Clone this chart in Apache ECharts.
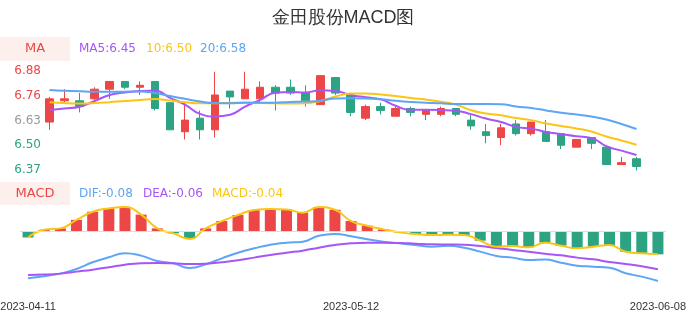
<!DOCTYPE html>
<html>
<head>
<meta charset="utf-8">
<title>金田股份MACD图</title>
<script src="https://cdn.jsdelivr.net/npm/echarts@6/dist/echarts.min.js"></script>
<style>
  html, body { margin: 0; padding: 0; background: #fff; }
  #main { width: 686px; height: 320px; }
</style>
</head>
<body>
<div id="main"></div>
<script>
// 交易日
var dates = ['2023-04-11','2023-04-12','2023-04-13','2023-04-14','2023-04-17','2023-04-18','2023-04-19','2023-04-20',
  '2023-04-21','2023-04-24','2023-04-25','2023-04-26','2023-04-27','2023-04-28','2023-05-04','2023-05-05',
  '2023-05-08','2023-05-09','2023-05-10','2023-05-11','2023-05-12','2023-05-15','2023-05-16','2023-05-17',
  '2023-05-18','2023-05-19','2023-05-22','2023-05-23','2023-05-24','2023-05-25','2023-05-26','2023-05-29',
  '2023-05-30','2023-05-31','2023-06-01','2023-06-02','2023-06-05','2023-06-06','2023-06-07','2023-06-08'];

// K线 开 收 低 高
var openPrice  = [6.62,6.73,6.73,6.74,6.79,6.83,6.80,6.83,6.72,6.57,6.64,6.58,6.78,6.74,6.74,6.80,6.80,6.77,6.71,6.85,
                  6.76,6.64,6.70,6.65,6.69,6.66,6.66,6.69,6.63,6.57,6.54,6.61,6.56,6.57,6.56,6.49,6.54,6.49,6.40,6.43];
var closePrice = [6.74,6.74,6.70,6.79,6.83,6.80,6.81,6.69,6.58,6.63,6.58,6.76,6.75,6.79,6.80,6.77,6.77,6.73,6.86,6.77,
                  6.67,6.70,6.68,6.69,6.67,6.68,6.69,6.66,6.60,6.55,6.59,6.56,6.62,6.52,6.50,6.53,6.51,6.40,6.41,6.39];
var lowPrice   = [6.58,6.72,6.67,6.72,6.74,6.79,6.76,6.68,6.58,6.53,6.53,6.54,6.69,6.74,6.72,6.68,6.76,6.70,6.71,6.76,
                  6.65,6.63,6.66,6.65,6.65,6.63,6.65,6.65,6.58,6.51,6.50,6.55,6.55,6.52,6.48,6.49,6.48,6.40,6.40,6.37];
var highPrice  = [6.75,6.79,6.77,6.80,6.83,6.83,6.83,6.83,6.72,6.72,6.68,6.88,6.78,6.88,6.83,6.81,6.84,6.81,6.86,6.85,
                  6.76,6.71,6.72,6.70,6.70,6.68,6.70,6.69,6.66,6.61,6.61,6.63,6.62,6.63,6.56,6.53,6.54,6.49,6.44,6.44];

// 均线
var ma5  = [6.682,6.690,6.699,6.729,6.760,6.773,6.780,6.783,6.745,6.710,6.662,6.649,6.658,6.700,6.735,6.772,6.776,6.773,6.784,6.781,
            6.760,6.748,6.738,6.704,6.683,6.683,6.682,6.679,6.661,6.638,6.620,6.595,6.586,6.569,6.558,6.547,6.538,6.495,6.472,6.450];
var ma10 = [6.723,6.718,6.716,6.718,6.723,6.729,6.734,6.739,6.731,6.723,6.717,6.717,6.720,6.721,6.718,6.717,6.716,6.717,6.729,6.752,
            6.767,6.768,6.763,6.755,6.744,6.736,6.725,6.710,6.681,6.664,6.655,6.641,6.630,6.612,6.600,6.587,6.571,6.545,6.525,6.503];
var ma20 = [6.786,6.782,6.779,6.777,6.777,6.777,6.778,6.770,6.755,6.740,6.726,6.718,6.717,6.720,6.720,6.720,6.724,6.726,6.730,6.742,
            6.743,6.742,6.738,6.730,6.724,6.720,6.717,6.713,6.713,6.713,6.712,6.700,6.693,6.680,6.668,6.659,6.649,6.633,6.610,6.584];

// MACD
var macdVal = [-0.011,0.002,0.0045,0.019,0.033,0.0386,0.041,0.028,0.0045,-0.004,-0.0136,0.0045,0.017,0.0273,0.0358,0.0375,0.0369,0.0312,0.0409,0.0363,
               0.017,0.0091,0.0028,-0.0023,-0.0051,-0.0068,-0.0065,-0.0068,-0.0165,-0.0267,-0.0256,-0.0278,-0.0199,-0.025,-0.0295,-0.0267,-0.0239,-0.0352,-0.038,-0.0398];
var dif = [-0.0806,-0.077,-0.0727,-0.0647,-0.0534,-0.0449,-0.038,-0.042,-0.0511,-0.055,-0.063,-0.0568,-0.0466,-0.037,-0.0295,-0.0233,-0.0199,-0.0182,-0.008,-0.0051,
           -0.009,-0.0142,-0.0182,-0.021,-0.0239,-0.0267,-0.0253,-0.0284,-0.0352,-0.0426,-0.0454,-0.0494,-0.0488,-0.054,-0.0591,-0.0608,-0.0625,-0.072,-0.0778,-0.0852];
var dea = [-0.075,-0.0744,-0.0727,-0.0693,-0.0659,-0.0619,-0.0574,-0.055,-0.0545,-0.055,-0.0562,-0.0557,-0.0534,-0.05,-0.0454,-0.0409,-0.037,-0.0335,-0.0284,-0.0239,
           -0.021,-0.0199,-0.0199,-0.0204,-0.0216,-0.0227,-0.023,-0.0233,-0.0256,-0.029,-0.0324,-0.0352,-0.0386,-0.0415,-0.0454,-0.0483,-0.0528,-0.0562,-0.0602,-0.0653];

// 刻度
var priceTicks = [6.372, 6.500, 6.628, 6.756, 6.884];
var macdRange = [-0.087, 0.041];
var dateLabelIdx = [0, 20, 39];

// 图例文字
var maLegend = ['MA5:6.45', '10:6.50', '20:6.58'];
var macdLegend = ['DIF:-0.08', 'DEA:-0.06', 'MACD:-0.04'];

var red = '#ec4646', green = '#2ca484';
var purple = '#a855f7', yellow = '#fbc514', blue = '#5da5f5';
var font = 'DejaVu Sans';

var kData = [];
for (var i = 0; i < dates.length; i++) {
  kData.push([openPrice[i], closePrice[i], lowPrice[i], highPrice[i]]);
}

function legendText(text, x, y, color) {
  return {
    type: 'text', x: x, y: y, silent: true,
    style: { text: text, fill: color, font: '12px "DejaVu Sans"', verticalAlign: 'middle' }
  };
}

var myChart = echarts.init(document.getElementById('main'));
var option = {
  animation: false,
  textStyle: { fontFamily: font },
  title: {
    text: '金田股份MACD图', left: 'center', top: 4,
    textStyle: { fontSize: 18, fontWeight: 'normal', color: '#333', fontFamily: 'sans-serif' }
  },
  graphic: [
    { type: 'rect', shape: { x: 0, y: 37, width: 70, height: 24 }, style: { fill: '#fdf0ec' }, silent: true },
    { type: 'text', x: 35, y: 49, silent: true,
      style: { text: 'MA', fill: red, font: '13px "DejaVu Sans"', align: 'center', verticalAlign: 'middle' } },
    legendText(maLegend[0], 79, 49, purple),
    legendText(maLegend[1], 146, 49, yellow),
    legendText(maLegend[2], 200, 49, blue),
    { type: 'rect', shape: { x: 0, y: 182, width: 70, height: 23 }, style: { fill: '#fdf0ec' }, silent: true },
    { type: 'text', x: 35, y: 193.5, silent: true,
      style: { text: 'MACD', fill: red, font: '13px "DejaVu Sans"', align: 'center', verticalAlign: 'middle' } },
    legendText(macdLegend[0], 79, 193.5, blue),
    legendText(macdLegend[1], 143, 193.5, purple),
    legendText(macdLegend[2], 212, 193.5, yellow)
  ],
  grid: [
    { left: 42, right: 42, top: 71, bottom: 150, outerBoundsMode: 'none' },
    { left: 20, right: 20, top: 207, bottom: 38, outerBoundsMode: 'none' }
  ],
  xAxis: [
    {
      type: 'category', gridIndex: 0, data: dates, boundaryGap: true,
      axisLine: { show: false }, axisTick: { show: false }, axisLabel: { show: false }, splitLine: { show: false }
    },
    {
      type: 'category', gridIndex: 1, data: dates, boundaryGap: true, position: 'bottom',
      axisLine: { show: false, onZero: false }, axisTick: { show: false }, splitLine: { show: false },
      axisLabel: {
        color: '#333', fontSize: 11, fontFamily: 'Liberation Sans', margin: 19, hideOverlap: false,
        interval: function (idx) { return dateLabelIdx.indexOf(idx) > -1; }
      }
    }
  ],
  yAxis: [
    {
      type: 'value', gridIndex: 0, min: priceTicks[0], max: priceTicks[priceTicks.length - 1],
      axisLine: { show: false }, axisTick: { show: false }, splitLine: { show: false },
      axisLabel: {
        customValues: priceTicks, fontSize: 12, margin: 1,
        formatter: function (v) { return v.toFixed(2); },
        color: function (v) {
          var mid = priceTicks[2];
          if (Math.abs(v - mid) < 1e-6) return '#999';
          return v > mid ? red : green;
        }
      }
    },
    {
      type: 'value', gridIndex: 1, min: macdRange[0], max: macdRange[1],
      axisLine: { show: false }, axisTick: { show: false }, splitLine: { show: false }, axisLabel: { show: false }
    }
  ],
  series: [
    {
      name: 'K', type: 'candlestick', xAxisIndex: 0, yAxisIndex: 0, data: kData, barWidth: 8,
      itemStyle: { color: red, color0: green, borderColor: red, borderColor0: green, borderWidth: 1 }
    },
    { name: 'MA5', type: 'line', xAxisIndex: 0, yAxisIndex: 0, data: ma5, smooth: true, showSymbol: false,
      lineStyle: { color: purple, width: 2 } },
    { name: 'MA10', type: 'line', xAxisIndex: 0, yAxisIndex: 0, data: ma10, smooth: true, showSymbol: false,
      lineStyle: { color: yellow, width: 2 } },
    { name: 'MA20', type: 'line', xAxisIndex: 0, yAxisIndex: 0, data: ma20, smooth: true, showSymbol: false,
      lineStyle: { color: blue, width: 2 } },
    {
      name: 'MACD柱', type: 'bar', xAxisIndex: 1, yAxisIndex: 1, data: macdVal, barWidth: 11,
      itemStyle: { color: function (p) { return p.value >= 0 ? red : green; } },
      markLine: {
        silent: true, symbol: 'none', label: { show: false },
        lineStyle: { color: '#ddd', type: 'solid', width: 1 },
        data: [{ yAxis: 0 }]
      }
    },
    { name: 'DIF', type: 'line', xAxisIndex: 1, yAxisIndex: 1, data: dif, smooth: true, showSymbol: false,
      lineStyle: { color: blue, width: 2 } },
    { name: 'DEA', type: 'line', xAxisIndex: 1, yAxisIndex: 1, data: dea, smooth: true, showSymbol: false,
      lineStyle: { color: purple, width: 2 } },
    { name: 'MACD', type: 'line', xAxisIndex: 1, yAxisIndex: 1, data: macdVal, smooth: true, showSymbol: false,
      lineStyle: { color: yellow, width: 2 } }
  ]
};
myChart.setOption(option);
</script>
</body>
</html>
